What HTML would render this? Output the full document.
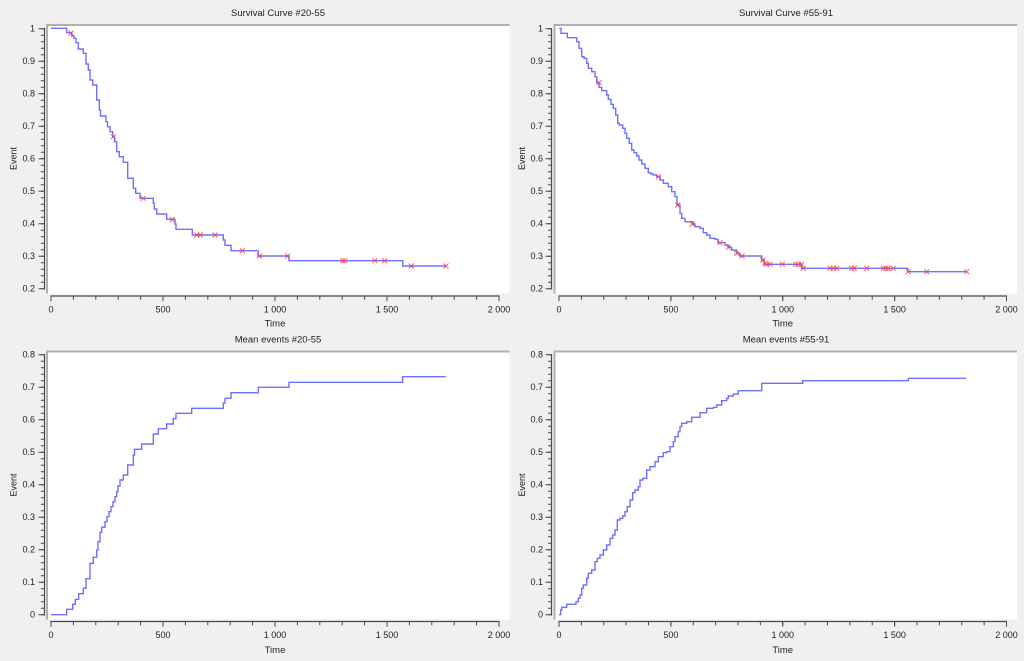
<!DOCTYPE html>
<html>
<head>
<meta charset="utf-8">
<style>
html,body{margin:0;padding:0;background:#f0f0f0;}
svg{display:block;}
text{font-family:"Liberation Sans",Arial,sans-serif;fill:#222;}
.tl{font-size:9px;}
.tt{font-size:9.5px;}
</style>
</head>
<body>
<svg width="1024" height="661" viewBox="0 0 1024 661" xmlns="http://www.w3.org/2000/svg">
<rect x="0" y="0" width="1024" height="661" fill="#f0f0f0"/>

<!-- Frames -->
<g>
  <rect x="46" y="24" width="463.5" height="269.5" fill="#fff"/>
  <rect x="553.5" y="24" width="463.5" height="269.5" fill="#fff"/>
  <rect x="46" y="350.5" width="463.5" height="269" fill="#fff"/>
  <rect x="553.5" y="350.5" width="463.5" height="269" fill="#fff"/>
  <g stroke="#b0b0b0" stroke-width="2" fill="none">
    <path d="M47,293.5 V25 H509.5"/>
    <path d="M554.5,293.5 V25 H1017"/>
    <path d="M47,619.5 V351.5 H509.5"/>
    <path d="M554.5,619.5 V351.5 H1017"/>
  </g>
</g>

<!-- Titles -->
<text class="tt" x="278" y="16" text-anchor="middle">Survival Curve #20-55</text>
<text class="tt" x="786" y="16" text-anchor="middle">Survival Curve #55-91</text>
<text class="tt" x="278" y="342.5" text-anchor="middle">Mean events #20-55</text>
<text class="tt" x="786" y="342.5" text-anchor="middle">Mean events #55-91</text>

<!-- Axis titles -->
<text class="tl" transform="translate(16.5,158.5) rotate(-90)" text-anchor="middle">Event</text>
<text class="tl" transform="translate(525,158.5) rotate(-90)" text-anchor="middle">Event</text>
<text class="tl" transform="translate(16.5,485) rotate(-90)" text-anchor="middle">Event</text>
<text class="tl" transform="translate(525,485) rotate(-90)" text-anchor="middle">Event</text>
<text class="tt" x="275" y="326.7" text-anchor="middle">Time</text>
<text class="tt" x="782.7" y="326.7" text-anchor="middle">Time</text>
<text class="tt" x="275" y="653" text-anchor="middle">Time</text>
<text class="tt" x="782.7" y="653" text-anchor="middle">Time</text>

<!-- Axes lines & ticks -->
<g stroke="#4a4a4a" fill="none">
  <!-- TL y -->
  <line x1="44.5" y1="28" x2="44.5" y2="289.5" stroke-width="1.2"/>
  <line x1="42.5" y1="28.2" x2="42.5" y2="289.5" stroke-width="3.5" stroke-dasharray="1 5.5"/>
  <line x1="41.5" y1="28.2" x2="41.5" y2="289.5" stroke-width="6" stroke-dasharray="1 31.5"/>
  <!-- TR y -->
  <line x1="551.5" y1="28" x2="551.5" y2="289.5" stroke-width="1.2"/>
  <line x1="549.75" y1="28.2" x2="549.75" y2="289.5" stroke-width="3.5" stroke-dasharray="1 5.5"/>
  <line x1="548.5" y1="28.2" x2="548.5" y2="289.5" stroke-width="6" stroke-dasharray="1 31.5"/>
  <!-- BL y -->
  <line x1="44.5" y1="354" x2="44.5" y2="615.5" stroke-width="1.2"/>
  <line x1="42.5" y1="354.2" x2="42.5" y2="615.5" stroke-width="3.5" stroke-dasharray="1 5.5"/>
  <line x1="41.5" y1="354.2" x2="41.5" y2="615.5" stroke-width="6" stroke-dasharray="1 31.5"/>
  <!-- BR y -->
  <line x1="551.5" y1="354" x2="551.5" y2="615.5" stroke-width="1.2"/>
  <line x1="549.75" y1="354.2" x2="549.75" y2="615.5" stroke-width="3.5" stroke-dasharray="1 5.5"/>
  <line x1="548.5" y1="354.2" x2="548.5" y2="615.5" stroke-width="6" stroke-dasharray="1 31.5"/>

  <!-- TL x -->
  <line x1="50.5" y1="296" x2="499.5" y2="296" stroke-width="1.2"/>
  <line x1="50.5" y1="298" x2="500" y2="298" stroke-width="3.5" stroke-dasharray="1 21.4"/>
  <line x1="50.5" y1="298.75" x2="500" y2="298.75" stroke-width="5" stroke-dasharray="1 111"/>
  <!-- TR x -->
  <line x1="558.5" y1="296" x2="1007" y2="296" stroke-width="1.2"/>
  <line x1="558.5" y1="298" x2="1007.5" y2="298" stroke-width="3.5" stroke-dasharray="1 21.375"/>
  <line x1="558.5" y1="298.75" x2="1007.5" y2="298.75" stroke-width="5" stroke-dasharray="1 110.875"/>
  <!-- BL x -->
  <line x1="50.5" y1="621.5" x2="499.5" y2="621.5" stroke-width="1.2"/>
  <line x1="50.5" y1="623.5" x2="500" y2="623.5" stroke-width="3.5" stroke-dasharray="1 21.4"/>
  <line x1="50.5" y1="624.25" x2="500" y2="624.25" stroke-width="5" stroke-dasharray="1 111"/>
  <!-- BR x -->
  <line x1="558.5" y1="621.5" x2="1007" y2="621.5" stroke-width="1.2"/>
  <line x1="558.5" y1="623.5" x2="1007.5" y2="623.5" stroke-width="3.5" stroke-dasharray="1 21.375"/>
  <line x1="558.5" y1="624.25" x2="1007.5" y2="624.25" stroke-width="5" stroke-dasharray="1 110.875"/>
</g>

<!-- Y tick labels -->
<g class="tl" text-anchor="end">
  <text x="35" y="31.7">1</text>
  <text x="35" y="64.2">0.9</text>
  <text x="35" y="96.7">0.8</text>
  <text x="35" y="129.2">0.7</text>
  <text x="35" y="161.7">0.6</text>
  <text x="35" y="194.2">0.5</text>
  <text x="35" y="226.7">0.4</text>
  <text x="35" y="259.2">0.3</text>
  <text x="35" y="291.7">0.2</text>

  <text x="543" y="31.7">1</text>
  <text x="543" y="64.2">0.9</text>
  <text x="543" y="96.7">0.8</text>
  <text x="543" y="129.2">0.7</text>
  <text x="543" y="161.7">0.6</text>
  <text x="543" y="194.2">0.5</text>
  <text x="543" y="226.7">0.4</text>
  <text x="543" y="259.2">0.3</text>
  <text x="543" y="291.7">0.2</text>

  <text x="35" y="357.7">0.8</text>
  <text x="35" y="390.2">0.7</text>
  <text x="35" y="422.7">0.6</text>
  <text x="35" y="455.2">0.5</text>
  <text x="35" y="487.7">0.4</text>
  <text x="35" y="520.2">0.3</text>
  <text x="35" y="552.7">0.2</text>
  <text x="35" y="585.2">0.1</text>
  <text x="35" y="617.7">0</text>

  <text x="543" y="357.7">0.8</text>
  <text x="543" y="390.2">0.7</text>
  <text x="543" y="422.7">0.6</text>
  <text x="543" y="455.2">0.5</text>
  <text x="543" y="487.7">0.4</text>
  <text x="543" y="520.2">0.3</text>
  <text x="543" y="552.7">0.2</text>
  <text x="543" y="585.2">0.1</text>
  <text x="543" y="617.7">0</text>
</g>

<!-- X tick labels -->
<g class="tl" text-anchor="middle">
  <text x="51" y="312.3">0</text>
  <text x="163" y="312.3">500</text>
  <text x="275" y="312.3">1 000</text>
  <text x="387" y="312.3">1 500</text>
  <text x="499" y="312.3">2 000</text>

  <text x="559" y="312.3">0</text>
  <text x="670.9" y="312.3">500</text>
  <text x="782.75" y="312.3">1 000</text>
  <text x="894.6" y="312.3">1 500</text>
  <text x="1006.5" y="312.3">2 000</text>

  <text x="51" y="638">0</text>
  <text x="163" y="638">500</text>
  <text x="275" y="638">1 000</text>
  <text x="387" y="638">1 500</text>
  <text x="499" y="638">2 000</text>

  <text x="559" y="638">0</text>
  <text x="670.9" y="638">500</text>
  <text x="782.75" y="638">1 000</text>
  <text x="894.6" y="638">1 500</text>
  <text x="1006.5" y="638">2 000</text>
</g>

<!-- Curves -->
<g fill="none" stroke="#6060ff" stroke-width="1.4" stroke-opacity="0.9" stroke-linejoin="miter">
<polyline points="51,28.3 66.7,28.3 66.7,32.7 71.7,32.7 71.7,36 74,36 74,38.3 76,38.3 76,42.7 78.3,42.7 78.3,49 83.3,49 83.3,53.3 86,53.3 86,64 88.3,64 88.3,70 90,70 90,80 92.7,80 92.7,85 96.7,85 96.7,100 99.3,100 99.3,110 100.5,110 100.5,116 106,116 106,121.7 107.5,121.7 107.5,126.7 110,126.7 110,131.7 112.7,131.7 112.7,136.7 114.5,136.7 114.5,141.7 116.7,141.7 116.7,151.7 119.3,151.7 119.3,156.7 123.3,156.7 123.3,162.3 127.7,162.3 127.7,178.3 133.3,178.3 133.3,188.3 135.7,188.3 135.7,193.3 140,193.3 140,198.3 153.3,198.3 153.3,203.3 154.3,203.3 154.3,209 156.7,209 156.7,214 166.7,214 166.7,219.3 175,219.3 175,224 176,224 176,229.3 192.3,229.3 192.3,235 223.3,235 223.3,240 225,240 225,245.3 231,245.3 231,250.7 258.3,250.7 258.3,256 289,256 289,260.7 402.7,260.7 402.7,266 446,266"/>

<polyline points="559.3,28.3 561,28.3 561,33.3 567.3,33.3 567.3,37.7 576.7,37.7 576.7,41.7 579,41.7 579,48.3 581.7,48.3 581.7,56.7 584,56.7 584,58.3 586.7,58.3 586.7,63.3 588.3,63.3 588.3,68.3 591.7,68.3 591.7,71.7 595,71.7 595,76.7 596.7,76.7 596.7,82.7 599,82.7 599,87.3 601.7,87.3 601.7,90.7 606.7,90.7 606.7,95 608.3,95 608.3,99.3 611,99.3 611,104.3 613.3,104.3 613.3,108.3 615.7,108.3 615.7,115 617.7,115 617.7,123.3 619.3,123.3 619.3,125 622.7,125 622.7,128.3 625,128.3 625,133.3 626.7,133.3 626.7,138.3 629.3,138.3 629.3,143.3 631.7,143.3 631.7,150 634,150 634,152.7 636.7,152.7 636.7,156 639,156 639,160 641.7,160 641.7,164 645,164 645,168.3 648.3,168.3 648.3,172.7 650.7,172.7 650.7,174 653.3,174 653.3,175 656.7,175 656.7,176.7 660,176.7 660,180 663.3,180 663.3,183.3 668.3,183.3 668.3,186.7 671.7,186.7 671.7,191.7 675,191.7 675,196.7 677,196.7 677,205 680,205 680,213.3 681.7,213.3 681.7,218.3 685,218.3 685,221.7 692.3,221.7 692.3,224 695,224 695,226.7 700,226.7 700,228.3 703.3,228.3 703.3,232.7 706.7,232.7 706.7,235 710,235 710,238.3 715,238.3 715,239.3 718,239.3 718,242.7 725,242.7 725,245 728.3,245 728.3,247.3 731.7,247.3 731.7,250 736.7,250 736.7,253.3 740,253.3 740,256 761.7,256 761.7,260 764,260 764,264.3 801.7,264.3 801.7,268.3 907.7,268.3 907.7,271.7 966.7,271.7"/>

<polyline points="51,614.7 66.7,614.7 66.7,609.3 72.7,609.3 72.7,604.3 75.3,604.3 75.3,599.3 78.7,599.3 78.7,593.7 83.3,593.7 83.3,588.3 86,588.3 86,578.7 90,578.7 90,563.3 93.3,563.3 93.3,557.3 96.7,557.3 96.7,550 98,550 98,541.7 100,541.7 100,532.3 101.7,532.3 101.7,527.3 105,527.3 105,521.7 107,521.7 107,516.7 109,516.7 109,511.7 111,511.7 111,506.7 113,506.7 113,501.7 115,501.7 115,496.7 116.7,496.7 116.7,491.7 118,491.7 118,486 120,486 120,480 123.3,480 123.3,475 127.7,475 127.7,465 133.3,465 133.3,455 134.5,455 134.5,449.3 141.7,449.3 141.7,444 153.3,444 153.3,434 158.3,434 158.3,428.7 166.7,428.7 166.7,424 173.3,424 173.3,418.7 176,418.7 176,413.3 191.7,413.3 191.7,408.3 223.3,408.3 223.3,403 225,403 225,398.3 231,398.3 231,392.7 258.3,392.7 258.3,387.3 289,387.3 289,382.3 402.7,382.3 402.7,376.7 445.7,376.7"/>

<polyline points="559,614.7 560.7,614.7 560.7,610 561.7,610 561.7,607.3 566.7,607.3 566.7,604.3 576,604.3 576,601.7 578.3,601.7 578.3,598 580,598 580,595 581.7,595 581.7,588.3 583.3,588.3 583.3,585 586.7,585 586.7,578.3 588.3,578.3 588.3,573.3 591.7,573.3 591.7,570 595,570 595,561.7 597.3,561.7 597.3,558.3 600,558.3 600,555 603.3,555 603.3,550 606.7,550 606.7,545 610,545 610,538.3 612.7,538.3 612.7,535 615,535 615,530 617.3,530 617.3,520 620,520 620,518.3 622.7,518.3 622.7,516 625,516 625,511.7 627.3,511.7 627.3,506.7 630,506.7 630,500 632.7,500 632.7,492.7 635,492.7 635,490 638.3,490 638.3,486.7 640,486.7 640,480 643,480 643,478.3 646.7,478.3 646.7,470 650,470 650,466.7 655,466.7 655,461.7 658.3,461.7 658.3,456.7 663.3,456.7 663.3,452.7 666.7,452.7 666.7,451.7 670,451.7 670,446.7 673.3,446.7 673.3,441.7 675,441.7 675,436.7 678.3,436.7 678.3,431.7 680,431.7 680,426.7 681.7,426.7 681.7,423.3 686.7,423.3 686.7,421.7 691.7,421.7 691.7,417.3 700,417.3 700,412.7 706.7,412.7 706.7,408.3 713.3,408.3 713.3,407.3 716.7,407.3 716.7,405 721.7,405 721.7,400.7 726.7,400.7 726.7,398.3 728.3,398.3 728.3,396 733.3,396 733.3,394 738.3,394 738.3,390.7 761.7,390.7 761.7,383.3 802.7,383.3 802.7,380.7 908.3,380.7 908.3,378.3 966,378.3"/>
</g>

<!-- Censor crosses -->
<g fill="none" stroke="#ff3a3a" stroke-width="1" stroke-opacity="0.85">
<path d="M68.5,30.5 l5,5 m-5,0 l5,-5 M110.8,134.2 l5,5 m-5,0 l5,-5 M140.8,195.8 l5,5 m-5,0 l5,-5 M169.8,217 l5,5 m-5,0 l5,-5 M194.2,232.5 l5,5 m-5,0 l5,-5 M197.8,232.5 l5,5 m-5,0 l5,-5 M212.5,232.5 l5,5 m-5,0 l5,-5 M239.8,248.2 l5,5 m-5,0 l5,-5 M257,253.5 l5,5 m-5,0 l5,-5 M285.2,253.5 l5,5 m-5,0 l5,-5 M340.2,258.2 l5,5 m-5,0 l5,-5 M342.5,258.2 l5,5 m-5,0 l5,-5 M372.2,258.2 l5,5 m-5,0 l5,-5 M382.2,258.2 l5,5 m-5,0 l5,-5 M408.8,263.5 l5,5 m-5,0 l5,-5 M443.5,263.5 l5,5 m-5,0 l5,-5"/>
<path d="M596.8,80.2 l5,5 m-5,0 l5,-5 M655.8,174.2 l5,5 m-5,0 l5,-5 M675.2,202.5 l5,5 m-5,0 l5,-5 M689.8,221.5 l5,5 m-5,0 l5,-5 M717.5,240.2 l5,5 m-5,0 l5,-5 M725.8,244.8 l5,5 m-5,0 l5,-5 M734.2,250.8 l5,5 m-5,0 l5,-5 M739.5,253.5 l5,5 m-5,0 l5,-5 M760.2,257.5 l5,5 m-5,0 l5,-5 M762.5,260.8 l5,5 m-5,0 l5,-5 M764.2,261.8 l5,5 m-5,0 l5,-5 M767.5,261.8 l5,5 m-5,0 l5,-5 M779.8,261.8 l5,5 m-5,0 l5,-5 M793.2,261.8 l5,5 m-5,0 l5,-5 M795.8,261.8 l5,5 m-5,0 l5,-5 M799.2,261.8 l5,5 m-5,0 l5,-5 M800.8,265.8 l5,5 m-5,0 l5,-5 M827.5,265.8 l5,5 m-5,0 l5,-5 M830.8,265.8 l5,5 m-5,0 l5,-5 M834.2,265.8 l5,5 m-5,0 l5,-5 M849.2,265.8 l5,5 m-5,0 l5,-5 M851.8,265.8 l5,5 m-5,0 l5,-5 M864.2,265.8 l5,5 m-5,0 l5,-5 M880.8,265.8 l5,5 m-5,0 l5,-5 M883.5,265.8 l5,5 m-5,0 l5,-5 M885.8,265.8 l5,5 m-5,0 l5,-5 M890.8,265.8 l5,5 m-5,0 l5,-5 M905.8,269.2 l5,5 m-5,0 l5,-5 M924.2,269.2 l5,5 m-5,0 l5,-5 M964.2,269.2 l5,5 m-5,0 l5,-5"/>
</g>
</svg>
</body>
</html>
